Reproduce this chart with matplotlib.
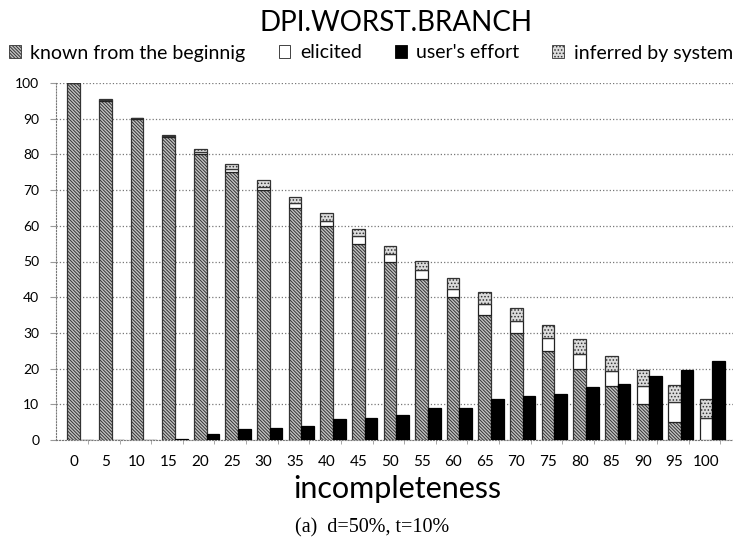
import matplotlib
matplotlib.use("Agg")
import matplotlib.pyplot as plt
from matplotlib.patches import Patch
import numpy as np

incompleteness = [0, 5, 10, 15, 20, 25, 30, 35, 40, 45, 50, 55, 60, 65, 70, 75, 80, 85, 90, 95, 100]
known = [100, 95, 90, 85, 80, 75, 70, 65, 60, 55, 50, 45, 40, 35, 30, 25, 20, 15, 10, 5, 0]
elicited = [0, 0.2, 0.1, 0.2, 0.6, 1.0, 1.0, 1.3, 1.4, 2.1, 2.0, 2.5, 2.4, 3.2, 3.4, 3.5, 4.2, 4.3, 5.2, 5.6, 6.1]
inferred = [0, 0.2, 0.2, 0.3, 1.0, 1.2, 1.8, 1.7, 2.3, 2.1, 2.4, 2.6, 3.0, 3.3, 3.5, 3.8, 4.0, 4.3, 4.3, 4.7, 5.5]
user_effort = [0, 0, 0, 0.3, 1.6, 3.0, 3.3, 3.8, 5.8, 6.3, 7.0, 8.9, 9.1, 11.6, 12.3, 13.0, 14.9, 15.7, 18.0, 19.6, 22.2]
yticks = [0, 10, 20, 30, 40, 50, 60, 70, 80, 90, 100]

plt.rcParams['font.family'] = ['Lato', 'DejaVu Sans']
plt.rcParams['hatch.linewidth'] = 0.7

fig = plt.figure(figsize=(7.34, 5.47), dpi=100)
ax = fig.add_axes([56/734, 107/547, 677/734, 357/547])

x = np.arange(len(incompleteness))
w = 0.4
kn = np.array(known, float)
el = np.array(elicited, float)
inf = np.array(inferred, float)

known_hatch = '\\' * 10
ax.bar(x, kn, w, color='#c4c4c4', edgecolor='#333333', hatch=known_hatch, linewidth=0.9, zorder=3)
ax.bar(x, el, w, bottom=kn, color='white', edgecolor='#222222', linewidth=0.9, zorder=3)
ax.bar(x, inf, w, bottom=kn + el, color='#dcdcdc', edgecolor='#333333', hatch='.....', linewidth=0.9, zorder=3)
ax.bar(x + w, user_effort, w, color='black', edgecolor='black', linewidth=0.9, zorder=3)

ax.set_ylim(0, 100)
ax.set_xlim(-0.56, 20.85)
ax.set_yticks(yticks)
ax.set_yticklabels([str(v) for v in yticks], fontsize=10)
ax.set_xticks(x)
ax.set_xticklabels([str(v) for v in incompleteness], fontsize=11)
ax.set_xticks(x + 0.45, minor=True)
ax.tick_params(axis='x', which='major', length=0, pad=11)
ax.tick_params(axis='x', which='minor', length=3, color='#999999')
ax.tick_params(axis='y', length=4, color='#999999', pad=8)

ax.grid(axis='y', linestyle=':', color='#777777', linewidth=0.9, zorder=0)
for s in ['top', 'right']:
    ax.spines[s].set_visible(False)
ax.spines['left'].set_linestyle(':')
ax.spines['left'].set_color('#777777')
ax.spines['bottom'].set_linestyle(':')
ax.spines['bottom'].set_color('#777777')

fig.text(397/734, 1 - 489/547, 'incompleteness', ha='center', va='center', fontsize=22)

fig.text(396/734, 1 - 23/547, 'DPI.WORST.BRANCH', ha='center', va='center', fontsize=20)

handles = [
    Patch(facecolor='#c4c4c4', edgecolor='#333333', hatch=known_hatch, linewidth=0.6),
    Patch(facecolor='white', edgecolor='#222222', linewidth=0.6),
    Patch(facecolor='black', edgecolor='black', linewidth=0.6),
    Patch(facecolor='#dcdcdc', edgecolor='#333333', hatch='.....', linewidth=0.6),
]
labels = ['known from the beginnig', 'elicited', "user's effort", 'inferred by system']
fig.legend(handles, labels, loc='center', bbox_to_anchor=(371/734, 1 - 53/547), ncol=4,
           frameon=False, fontsize=14, handlelength=0.6, handleheight=0.6,
           handletextpad=0.5, columnspacing=1.7)

fig.text(372/734, 1 - 528/547, '(a)  d=50%, t=10%', ha='center', va='center',
         fontsize=14.5, family=['Liberation Serif', 'DejaVu Serif'])

fig.savefig('out.png', dpi=100)
